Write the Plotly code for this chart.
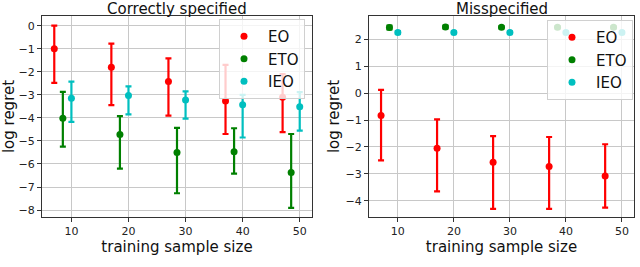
import plotly.graph_objects as go

# ---- data ----
x_eo = [7, 17, 27, 37, 47]
x_eto = [8.5, 18.5, 28.5, 38.5, 48.5]
x_ieo = [10, 20, 30, 40, 50]

# Correctly specified
cs_eo = [-1.0, -1.8, -2.42, -3.27, -3.1]
cs_eo_lo = [-2.48, -3.45, -3.9, -4.7, -4.62]
cs_eo_hi = [0.0, -0.78, -1.42, -1.7, -2.1]
cs_eto = [-4.02, -4.72, -5.5, -5.47, -6.37]
cs_eto_lo = [-5.25, -6.2, -7.27, -6.42, -7.9]
cs_eto_hi = [-2.87, -3.92, -4.43, -4.45, -4.7]
cs_ieo = [-3.15, -3.03, -3.22, -3.43, -3.52]
cs_ieo_lo = [-4.17, -3.85, -4.03, -4.85, -4.55]
cs_ieo_hi = [-2.43, -2.63, -2.85, -3.0, -2.88]

# Misspecified
ms_eo = [-0.83, -2.05, -2.57, -2.73, -3.08]
ms_eo_lo = [-2.5, -3.65, -4.3, -4.3, -4.25]
ms_eo_hi = [0.12, -0.98, -1.6, -1.63, -1.9]
ms_eto = [2.43, 2.45, 2.44, 2.44, 2.44]
ms_eto_lo = [2.36, 2.40, 2.40, 2.40, 2.40]
ms_eto_hi = [2.50, 2.50, 2.48, 2.48, 2.48]
ms_ieo = [2.25, 2.25, 2.25, 2.25, 2.25]
ms_ieo_lo = [2.20, 2.21, 2.21, 2.21, 2.21]
ms_ieo_hi = [2.30, 2.29, 2.29, 2.29, 2.29]

names = ["EO", "ETO", "IEO"]
colors = ["#ff0000", "#008000", "#00bfbf"]

FONT = "DejaVu Sans"
fig = go.Figure()


def add(xs, ys, lo, hi, name, color, xa, ya, legend):
    fig.add_trace(go.Scatter(
        x=xs, y=ys, mode="markers", name=name,
        marker=dict(color=color, size=7),
        error_y=dict(type="data", symmetric=False,
                     array=[h - y for h, y in zip(hi, ys)],
                     arrayminus=[y - l for l, y in zip(lo, ys)],
                     color=color, thickness=2.2, width=3),
        xaxis=xa, yaxis=ya, legend=legend,
    ))


left = [(x_eo, cs_eo, cs_eo_lo, cs_eo_hi), (x_eto, cs_eto, cs_eto_lo, cs_eto_hi),
        (x_ieo, cs_ieo, cs_ieo_lo, cs_ieo_hi)]
right = [(x_eo, ms_eo, ms_eo_lo, ms_eo_hi), (x_eto, ms_eto, ms_eto_lo, ms_eto_hi),
         (x_ieo, ms_ieo, ms_ieo_lo, ms_ieo_hi)]
for (xs, ys, lo, hi), n, c in zip(left, names, colors):
    add(xs, ys, lo, hi, n, c, "x", "y", "legend")
for (xs, ys, lo, hi), n, c in zip(right, names, colors):
    add(xs, ys, lo, hi, n, c, "x2", "y2", "legend2")

ax_common = dict(showgrid=True, gridcolor="#c8c8c8", gridwidth=1,
                 showline=True, linecolor="#333333", linewidth=1, mirror=True,
                 ticks="outside", ticklen=4, tickcolor="#333333",
                 zeroline=False, automargin=False,
                 tickfont=dict(family=FONT, size=11, color="#222"))

TS = 15
y0, y1 = 1 - 217 / 267, 1 - 16 / 267
fig.update_layout(
    width=640, height=267,
    margin=dict(l=0, r=0, t=0, b=0),
    paper_bgcolor="white", plot_bgcolor="white",
    font=dict(family=FONT, color="#111"),
    showlegend=True,
    xaxis=dict(domain=[42 / 640, 312 / 640], range=[4.85, 52.15],
               tickvals=[10, 20, 30, 40, 50], anchor="y",
               title=dict(text="training sample size", font=dict(size=TS, family=FONT), standoff=4),
               **ax_common),
    yaxis=dict(domain=[y0, y1], range=[-8.3, 0.42], dtick=1, anchor="x",
               title=dict(text="log regret", font=dict(size=TS, family=FONT), standoff=5),
               **ax_common),
    xaxis2=dict(domain=[369 / 640, 634 / 640], range=[4.85, 52.15],
                tickvals=[10, 20, 30, 40, 50], anchor="y2",
                title=dict(text="training sample size", font=dict(size=TS, family=FONT), standoff=4),
                **ax_common),
    yaxis2=dict(domain=[y0, y1], range=[-4.6, 2.86], dtick=1, anchor="x2",
                title=dict(text="log regret", font=dict(size=TS, family=FONT), standoff=2),
                **ax_common),
    legend=dict(x=219 / 640, y=1 - 19 / 267, xanchor="left", yanchor="top",
                bgcolor="rgba(255,255,255,0.8)", bordercolor="#d0d0d0", borderwidth=1,
                itemwidth=38,
                font=dict(family=FONT, size=15, color="#111")),
    legend2=dict(x=547 / 640, y=1 - 20 / 267, xanchor="left", yanchor="top",
                 bgcolor="rgba(255,255,255,0.8)", bordercolor="#d0d0d0", borderwidth=1,
                 itemwidth=38,
                 font=dict(family=FONT, size=15, color="#111")),
    annotations=[
        dict(text="Correctly specified", x=(42 + 312) / 2 / 640, y=1, xref="paper", yref="paper",
             xanchor="center", yanchor="top", showarrow=False, yshift=1, borderpad=0,
             font=dict(family=FONT, size=TS, color="#111")),
        dict(text="Misspecified", x=(369 + 634) / 2 / 640, y=1, xref="paper", yref="paper",
             xanchor="center", yanchor="top", showarrow=False, yshift=1, borderpad=0,
             font=dict(family=FONT, size=TS, color="#111")),
    ],
)

fig.write_html("out.html", config={"displayModeBar": False},
               post_script="document.body.style.margin='0';document.body.style.padding='0';")
